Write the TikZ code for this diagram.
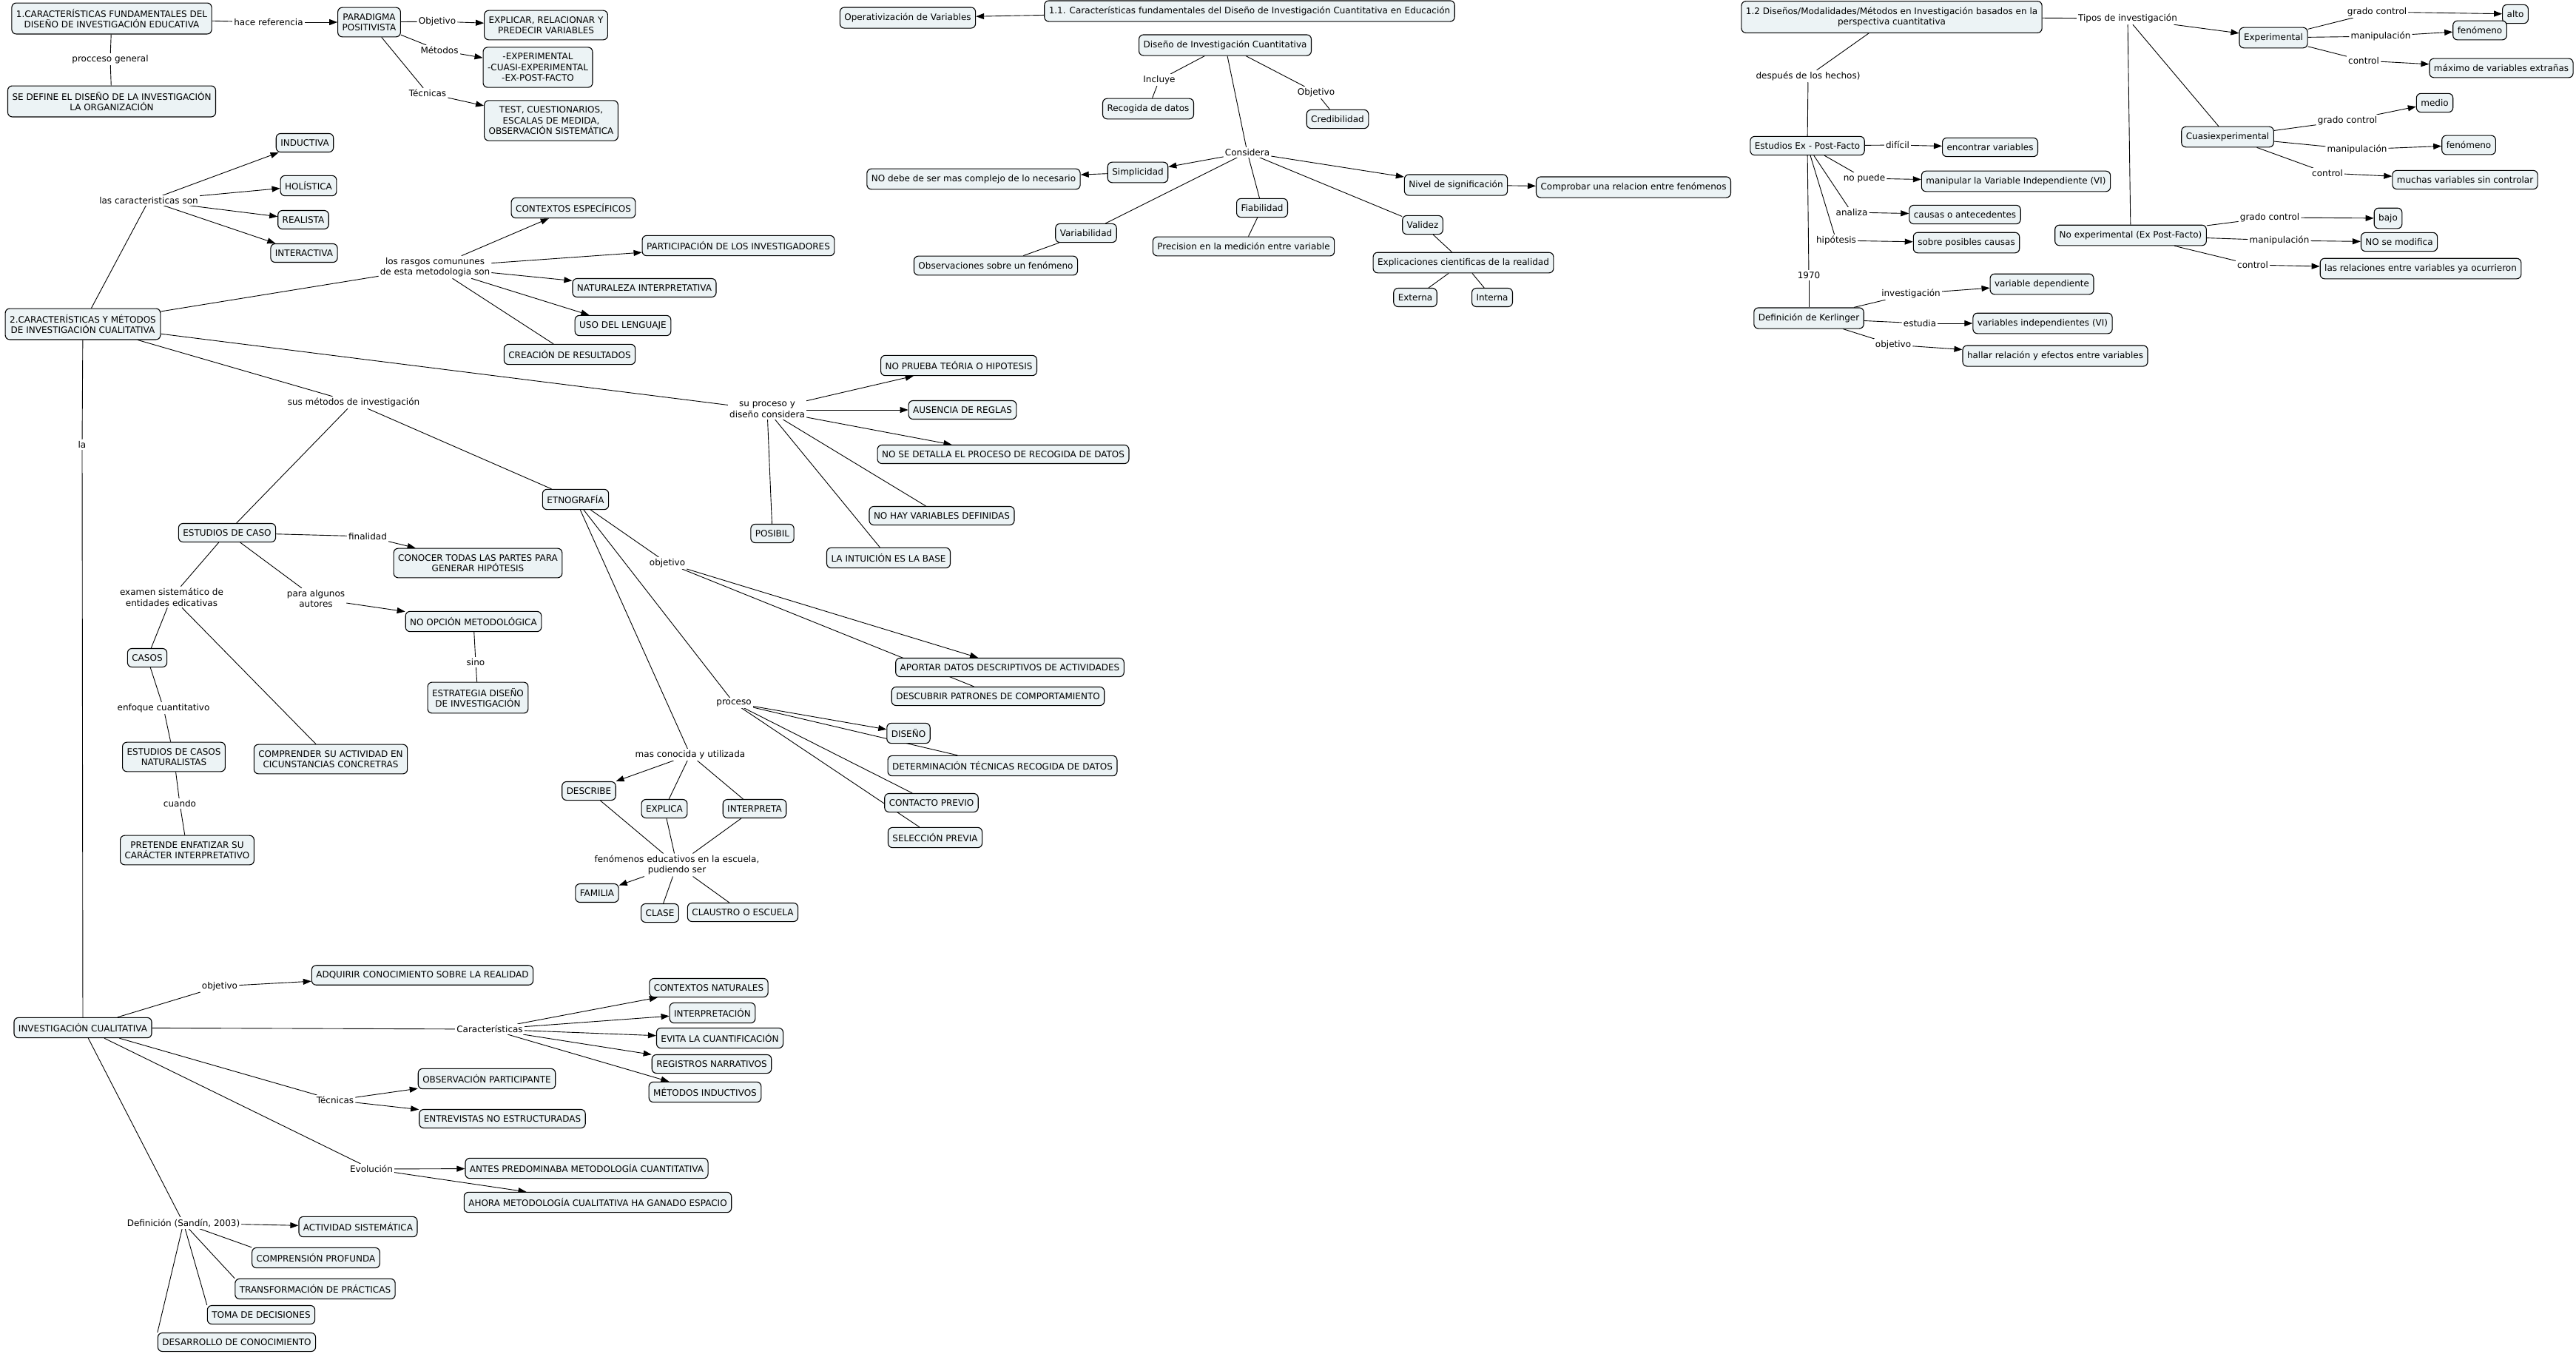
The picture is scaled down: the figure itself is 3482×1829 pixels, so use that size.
\documentclass[tikz,border=0pt]{standalone}
\usepackage{fontspec}
\setmainfont{DejaVu Sans}
\usetikzlibrary{arrows.meta,backgrounds}
\definecolor{cmapfill}{RGB}{236,243,245}

\begin{document}
\begin{tikzpicture}[
  x=1pt, y=-1pt,
  font=\fontsize{12}{14.6}\selectfont,
  concept/.style={draw, rounded corners=6pt, align=center, fill=cmapfill, inner xsep=6pt, inner ysep=8pt, minimum height=25pt, line width=1.1pt},
  lbl/.style={align=center, fill=white, inner sep=2pt},
  ln/.style={line width=0.9pt},
  arr/.style={ln, -{Triangle[length=11pt, width=8pt]}},
]
\useasboundingbox (0,0) rectangle (3482,1829);

% --- 1. paradigma positivista ----------------------------------------------
\node[concept] (fund) at (151,25) {1.CARACTERÍSTICAS FUNDAMENTALES DEL\\DISEÑO DE INVESTIGACIÓN EDUCATIVA};
\node[lbl] (lhace) at (363,30) {hace referencia};
\node[concept] (parad) at (499,30) {PARADIGMA\\POSITIVISTA};
\node[lbl] (lobj1) at (591,29) {Objetivo};
\node[concept] (explic) at (738,34) {EXPLICAR, RELACIONAR Y\\PREDECIR VARIABLES};
\node[lbl] (lmet) at (594,68) {Métodos};
\node[concept] (exper) at (727,91) {-EXPERIMENTAL\\-CUASI-EXPERIMENTAL\\-EX-POST-FACTO};
\node[lbl] (ltec1) at (578,126) {Técnicas};
\node[concept] (test) at (745,163) {TEST, CUESTIONARIOS,\\ESCALAS DE MEDIDA,\\OBSERVACIÓN SISTEMÁTICA};
\node[lbl] (lproc) at (149,80) {procceso general};
\node[concept] (define) at (151,137) {SE DEFINE EL DISEÑO DE LA INVESTIGACIÓN\\LA ORGANIZACIÓN};

% --- 2. metodos cualitativos -----------------------------------------------
\node[concept] (cual) at (112,438) {2.CARACTERÍSTICAS Y MÉTODOS\\DE INVESTIGACIÓN CUALITATIVA};
\node[lbl] (lcar) at (201,271) {las caracteristicas son};
\node[concept] (induc) at (412,193) {INDUCTIVA};
\node[concept] (holis) at (417,251) {HOLÍSTICA};
\node[concept] (realis) at (410,297) {REALISTA};
\node[concept] (interac) at (411,342) {INTERACTIVA};
\node[lbl] (lrasg) at (588,361) {los rasgos comununes\\de esta metodologia son};
\node[concept] (contesp) at (775,281) {CONTEXTOS ESPECÍFICOS};
\node[concept] (partic) at (998,332) {PARTICIPACIÓN DE LOS INVESTIGADORES};
\node[concept] (natur) at (871,389) {NATURALEZA INTERPRETATIVA};
\node[concept] (uso) at (842,440) {USO DEL LENGUAJE};
\node[concept] (creac) at (770,479) {CREACIÓN DE RESULTADOS};
\node[lbl] (lsusm) at (478,544) {sus métodos de investigación};
\node[lbl] (lsupro) at (1037,554) {su proceso y\\diseño considera};
\node[concept] (nopru) at (1296,494) {NO PRUEBA TEÓRIA O HIPOTESIS};
\node[concept] (ausen) at (1301,554) {AUSENCIA DE REGLAS};
\node[concept] (nodet) at (1356,614) {NO SE DETALLA EL PROCESO DE RECOGIDA DE DATOS};
\node[concept] (nohay) at (1273,697) {NO HAY VARIABLES DEFINIDAS};
\node[concept] (intui) at (1201,754) {LA INTUICIÓN ES LA BASE};
\node[concept] (posib) at (1044,721) {POSIBIL};
\node[lbl] (lla) at (111,601) {la};

% --- estudios de caso ------------------------------------------------------
\node[concept] (estcaso) at (307,720) {ESTUDIOS DE CASO};
\node[lbl] (lfin) at (497,725) {finalidad};
\node[concept] (conocer) at (646,761) {CONOCER TODAS LAS PARTES PARA\\GENERAR HIPÓTESIS};
\node[lbl] (lexam) at (232,807) {examen sistemático de\\entidades edicativas};
\node[lbl] (lpara) at (427,809) {para algunos\\autores};
\node[concept] (noopc) at (640,840) {NO OPCIÓN METODOLÓGICA};
\node[lbl] (lsino) at (643,895) {sino};
\node[concept] (estrat) at (646,943) {ESTRATEGIA DISEÑO\\DE INVESTIGACIÓN};
\node[concept] (casos) at (199,889) {CASOS};
\node[lbl] (lenf) at (221,957) {enfoque cuantitativo};
\node[concept] (natural) at (235,1023) {ESTUDIOS DE CASOS\\NATURALISTAS};
\node[concept] (compren) at (447,1026) {COMPRENDER SU ACTIVIDAD EN\\CICUNSTANCIAS CONCRETRAS};
\node[lbl] (lcuando) at (243,1086) {cuando};
\node[concept] (pretende) at (253,1149) {PRETENDE ENFATIZAR SU\\CARÁCTER INTERPRETATIVO};

% --- etnografia ------------------------------------------------------------
\node[concept] (etno) at (778,675) {ETNOGRAFÍA};
\node[lbl] (lobj2) at (902,761) {objetivo};
\node[concept] (aportar) at (1365,902) {APORTAR DATOS DESCRIPTIVOS DE ACTIVIDADES};
\node[concept] (descub) at (1349,941) {DESCUBRIR PATRONES DE COMPORTAMIENTO};
\node[lbl] (lproceso) at (992,950) {proceso};
\node[concept] (diseno) at (1228,991) {DISEÑO};
\node[concept] (determ) at (1355,1035) {DETERMINACIÓN TÉCNICAS RECOGIDA DE DATOS};
\node[concept] (contacto) at (1259,1085) {CONTACTO PREVIO};
\node[concept] (selecc) at (1264,1132) {SELECCIÓN PREVIA};
\node[lbl] (lmas) at (933,1020) {mas conocida y utilizada};
\node[concept] (describe) at (796,1069) {DESCRIBE};
\node[concept] (explica) at (898,1093) {EXPLICA};
\node[concept] (interpre) at (1020,1093) {INTERPRETA};
\node[lbl] (lfen) at (915,1169) {fenómenos educativos en la escuela,\\pudiendo ser};
\node[concept] (familia) at (807,1207) {FAMILIA};
\node[concept] (clase) at (892,1234) {CLASE};
\node[concept] (claustro) at (1004,1233) {CLAUSTRO O ESCUELA};

% --- 1.1 diseno cuantitativo -----------------------------------------------
\node[concept] (cuant) at (1689,15) {1.1. Características fundamentales del Diseño de Investigación Cuantitativa en Educación};
\node[concept] (operat) at (1227,24) {Operativización de Variables};
\node[concept] (disen) at (1656,61) {Diseño de Investigación Cuantitativa};
\node[lbl] (lincl) at (1567,108) {Incluye};
\node[concept] (recog) at (1552,147) {Recogida de datos};
\node[lbl] (lobj3) at (1779,125) {Objetivo};
\node[concept] (credib) at (1808,161) {Credibilidad};
\node[lbl] (lcons) at (1686,206) {Considera};
\node[concept] (simpl) at (1538,233) {Simplicidad};
\node[concept] (nodebe) at (1316,242) {NO debe de ser mas complejo de lo necesario};
\node[concept] (nivel) at (1968,250) {Nivel de significación};
\node[concept] (comprob) at (2208,253) {Comprobar una relacion entre fenómenos};
\node[concept] (fiab) at (1706,281) {Fiabilidad};
\node[concept] (precis) at (1681,333) {Precision en la medición entre variable};
\node[concept] (variab) at (1468,315) {Variabilidad};
\node[concept] (observ) at (1346,359) {Observaciones sobre un fenómeno};
\node[concept] (valid) at (1923,304) {Validez};
\node[concept] (explcie) at (1978,355) {Explicaciones cientificas de la realidad};
\node[concept] (externa) at (1913,402) {Externa};
\node[concept] (interna) at (2017,402) {Interna};

% --- 1.2 modalidades -------------------------------------------------------
\node[concept] (modal) at (2557,23) {1.2 Diseños/Modalidades/Métodos en Investigación basados en la\\perspectiva cuantitativa};
\node[lbl] (ltipos) at (2876,25) {Tipos de investigación};
\node[concept] (experim) at (3073,51) {Experimental};
\node[lbl] (lgc1) at (3213,16) {grado control};
\node[concept] (alto) at (3400,19) {alto};
\node[lbl] (lman1) at (3218,49) {manipulación};
\node[concept] (fenom1) at (3352,41) {fenómeno};
\node[lbl] (lctl1) at (3195,82) {control};
\node[concept] (maximo) at (3381,92) {máximo de variables extrañas};
\node[concept] (cuasi) at (3011,185) {Cuasiexperimental};
\node[lbl] (lgc2) at (3173,163) {grado control};
\node[concept] (medio) at (3291,139) {medio};
\node[lbl] (lman2) at (3186,202) {manipulación};
\node[concept] (fenom2) at (3337,196) {fenómeno};
\node[lbl] (lctl2) at (3146,234) {control};
\node[concept] (muchas) at (3332,243) {muchas variables sin controlar};
\node[concept] (noexp) at (2880,318) {No experimental (Ex Post-Facto)};
\node[lbl] (lgc3) at (3068,294) {grado control};
\node[concept] (bajo) at (3228,295) {bajo};
\node[lbl] (lman3) at (3081,325) {manipulación};
\node[concept] (nomod) at (3243,327) {NO se modifica};
\node[lbl] (lctl3) at (3045,358) {control};
\node[concept] (relac) at (3272,363) {las relaciones entre variables ya ocurrieron};
\node[lbl] (ldesp) at (2444,103) {después de los hechos)};
\node[concept] (expost) at (2443,197) {Estudios Ex - Post-Facto};
\node[lbl] (ldif) at (2565,196) {difícil};
\node[concept] (encont) at (2690,199) {encontrar variables};
\node[lbl] (lnop) at (2520,241) {no puede};
\node[concept] (manip) at (2725,245) {manipular la Variable Independiente (VI)};
\node[lbl] (lanal) at (2503,287) {analiza};
\node[concept] (causas) at (2656,290) {causas o antecedentes};
\node[lbl] (lhip) at (2482,325) {hipótesis};
\node[concept] (sobre) at (2658,328) {sobre posibles causas};
\node[lbl] (l1970) at (2445,372) {1970};
\node[concept] (kerl) at (2445,430) {Definición de Kerlinger};
\node[lbl] (linv) at (2583,397) {investigación};
\node[concept] (vardep) at (2760,384) {variable dependiente};
\node[lbl] (lestud) at (2595,437) {estudia};
\node[concept] (varind) at (2761,437) {variables independientes (VI)};
\node[lbl] (lobj4) at (2559,466) {objetivo};
\node[concept] (hallar) at (2778,481) {hallar relación y efectos entre variables};

% --- investigacion cualitativa ---------------------------------------------
\node[concept] (invc) at (112,1389) {INVESTIGACIÓN CUALITATIVA};
\node[lbl] (lobj5) at (297,1333) {objetivo};
\node[concept] (adquir) at (571,1318) {ADQUIRIR CONOCIMIENTO SOBRE LA REALIDAD};
\node[lbl] (lcarac) at (662,1391) {Características};
\node[concept] (contnat) at (958,1335) {CONTEXTOS NATURALES};
\node[concept] (interp) at (963,1369) {INTERPRETACIÓN};
\node[concept] (evita) at (973,1403) {EVITA LA CUANTIFICACIÓN};
\node[concept] (regist) at (962,1438) {REGISTROS NARRATIVOS};
\node[concept] (metind) at (953,1476) {MÉTODOS INDUCTIVOS};
\node[lbl] (ltec2) at (453,1487) {Técnicas};
\node[concept] (obspar) at (658,1458) {OBSERVACIÓN PARTICIPANTE};
\node[concept] (entrev) at (679,1512) {ENTREVISTAS NO ESTRUCTURADAS};
\node[lbl] (levol) at (502,1580) {Evolución};
\node[concept] (antes) at (793,1579) {ANTES PREDOMINABA METODOLOGÍA CUANTITATIVA};
\node[concept] (ahora) at (808,1625) {AHORA METODOLOGÍA CUALITATIVA HA GANADO ESPACIO};
\node[lbl] (ldef) at (248,1653) {Definición (Sandín, 2003)};
\node[concept] (activ) at (484,1658) {ACTIVIDAD SISTEMÁTICA};
\node[concept] (comprof) at (427,1700) {COMPRENSIÓN PROFUNDA};
\node[concept] (transf) at (426,1742) {TRANSFORMACIÓN DE PRÁCTICAS};
\node[concept] (toma) at (353,1777) {TOMA DE DECISIONES};
\node[concept] (desarr) at (320,1814) {DESARROLLO DE CONOCIMIENTO};

% --- connectors, behind the boxes ------------------------------------------
\begin{pgfonlayer}{background}
\fill[white] (0,0) rectangle (3482,1829);

\draw[ln] (fund) -- (lhace);
\draw[arr] (lhace) -- (parad);
\draw[ln] (parad) -- (lobj1);
\draw[arr] (lobj1) -- (explic);
\draw[ln] (parad) -- (lmet);
\draw[arr] (lmet) -- (exper);
\draw[ln] (parad) -- (ltec1);
\draw[arr] (ltec1) -- (test);
\draw[ln] (fund) -- (lproc);
\draw[ln] (lproc) -- (define);

\draw[ln] (cual) -- (lcar);
\draw[arr] (lcar) -- (induc);
\draw[arr] (lcar) -- (holis);
\draw[arr] (lcar) -- (realis);
\draw[arr] (lcar) -- (interac);
\draw[ln] (cual) -- (lrasg);
\draw[arr] (lrasg) -- (contesp);
\draw[arr] (lrasg) -- (partic);
\draw[arr] (lrasg) -- (natur);
\draw[arr] (lrasg) -- (uso);
\draw[ln] (lrasg) -- (creac);
\draw[ln] (cual) -- (lsusm);
\draw[ln] (lsusm) -- (estcaso);
\draw[ln] (lsusm) -- (etno);
\draw[ln] (cual) -- (lsupro);
\draw[arr] (lsupro) -- (nopru);
\draw[arr] (lsupro) -- (ausen);
\draw[arr] (lsupro) -- (nodet);
\draw[ln] (lsupro) -- (nohay);
\draw[ln] (lsupro) -- (intui);
\draw[ln] (lsupro) -- (posib);
\draw[ln] (cual) -- (lla);
\draw[ln] (lla) -- (invc);

\draw[ln] (estcaso) -- (lfin);
\draw[arr] (lfin) -- (conocer);
\draw[ln] (estcaso) -- (lpara);
\draw[arr] (lpara) -- (noopc);
\draw[ln] (noopc) -- (lsino);
\draw[ln] (lsino) -- (estrat);
\draw[ln] (estcaso) -- (lexam);
\draw[ln] (lexam) -- (casos);
\draw[ln] (lexam) -- (compren);
\draw[ln] (casos) -- (lenf);
\draw[ln] (lenf) -- (natural);
\draw[ln] (natural) -- (lcuando);
\draw[ln] (lcuando) -- (pretende);

\draw[ln] (etno) -- (lobj2);
\draw[arr] (lobj2) -- (aportar);
\draw[ln] (lobj2) -- (descub);
\draw[ln] (etno) -- (lproceso);
\draw[arr] (lproceso) -- (diseno);
\draw[ln] (lproceso) -- (determ);
\draw[ln] (lproceso) -- (contacto);
\draw[ln] (lproceso) -- (selecc);
\draw[ln] (etno) -- (lmas);
\draw[arr] (lmas) -- (describe);
\draw[ln] (lmas) -- (explica);
\draw[ln] (lmas) -- (interpre);
\draw[ln] (describe) -- (lfen);
\draw[ln] (explica) -- (lfen);
\draw[ln] (interpre) -- (lfen);
\draw[arr] (lfen) -- (familia);
\draw[ln] (lfen) -- (clase);
\draw[ln] (lfen) -- (claustro);

\draw[arr] (cuant) -- (operat);
\draw[ln] (disen) -- (lincl);
\draw[ln] (lincl) -- (recog);
\draw[ln] (disen) -- (lobj3);
\draw[ln] (lobj3) -- (credib);
\draw[ln] (disen) -- (lcons);
\draw[arr] (lcons) -- (simpl);
\draw[arr] (lcons) -- (nivel);
\draw[ln] (lcons) -- (variab);
\draw[ln] (lcons) -- (fiab);
\draw[ln] (lcons) -- (valid);
\draw[arr] (simpl) -- (nodebe);
\draw[arr] (nivel) -- (comprob);
\draw[ln] (fiab) -- (precis);
\draw[ln] (variab) -- (observ);
\draw[ln] (valid) -- (explcie);
\draw[ln] (explcie) -- (externa);
\draw[ln] (explcie) -- (interna);

\draw[ln] (modal) -- (ltipos);
\draw[arr] (ltipos) -- (experim);
\draw[ln] (ltipos) -- (cuasi);
\draw[ln] (ltipos) -- (noexp);
\draw[ln] (experim) -- (lgc1);
\draw[arr] (lgc1) -- (alto);
\draw[ln] (experim) -- (lman1);
\draw[arr] (lman1) -- (fenom1);
\draw[ln] (experim) -- (lctl1);
\draw[arr] (lctl1) -- (maximo);
\draw[ln] (cuasi) -- (lgc2);
\draw[arr] (lgc2) -- (medio);
\draw[ln] (cuasi) -- (lman2);
\draw[arr] (lman2) -- (fenom2);
\draw[ln] (cuasi) -- (lctl2);
\draw[arr] (lctl2) -- (muchas);
\draw[ln] (noexp) -- (lgc3);
\draw[arr] (lgc3) -- (bajo);
\draw[ln] (noexp) -- (lman3);
\draw[arr] (lman3) -- (nomod);
\draw[ln] (noexp) -- (lctl3);
\draw[arr] (lctl3) -- (relac);
\draw[ln] (modal) -- (ldesp);
\draw[ln] (ldesp) -- (expost);
\draw[ln] (expost) -- (ldif);
\draw[arr] (ldif) -- (encont);
\draw[ln] (expost) -- (lnop);
\draw[arr] (lnop) -- (manip);
\draw[ln] (expost) -- (lanal);
\draw[arr] (lanal) -- (causas);
\draw[ln] (expost) -- (lhip);
\draw[arr] (lhip) -- (sobre);
\draw[ln] (expost) -- (l1970);
\draw[ln] (l1970) -- (kerl);
\draw[ln] (kerl) -- (linv);
\draw[arr] (linv) -- (vardep);
\draw[ln] (kerl) -- (lestud);
\draw[arr] (lestud) -- (varind);
\draw[ln] (kerl) -- (lobj4);
\draw[arr] (lobj4) -- (hallar);

\draw[ln] (invc) -- (lobj5);
\draw[arr] (lobj5) -- (adquir);
\draw[ln] (invc) -- (lcarac);
\draw[arr] (lcarac) -- (contnat);
\draw[arr] (lcarac) -- (interp);
\draw[arr] (lcarac) -- (evita);
\draw[arr] (lcarac) -- (regist);
\draw[arr] (lcarac) -- (metind);
\draw[ln] (invc) -- (ltec2);
\draw[arr] (ltec2) -- (obspar);
\draw[arr] (ltec2) -- (entrev);
\draw[ln] (invc) -- (levol);
\draw[arr] (levol) -- (antes);
\draw[arr] (levol) -- (ahora);
\draw[ln] (invc) -- (ldef);
\draw[arr] (ldef) -- (activ);
\draw[ln] (ldef) -- (comprof.north west);
\draw[ln] (ldef) -- (transf.north west);
\draw[ln] (ldef) -- (toma.north west);
\draw[ln] (ldef) -- (desarr.north west);
\end{pgfonlayer}
\end{tikzpicture}
\end{document}
